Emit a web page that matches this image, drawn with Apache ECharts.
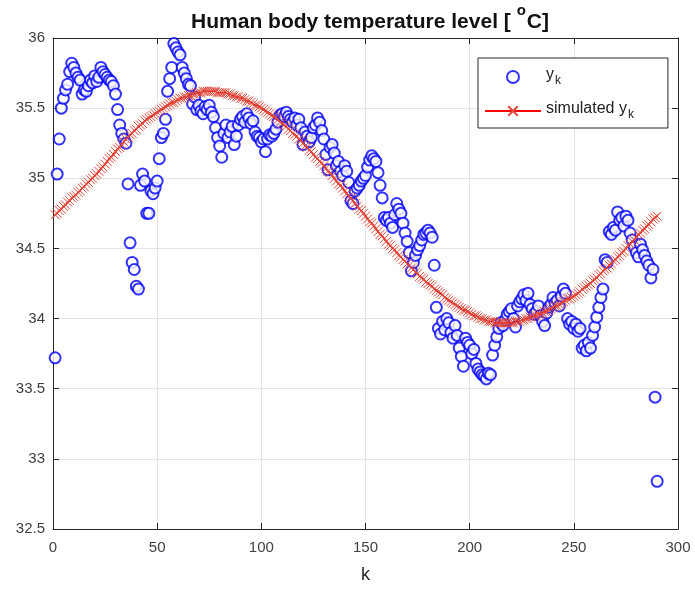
<!DOCTYPE html>
<html><head><meta charset="utf-8">
<script src="https://cdn.jsdelivr.net/npm/echarts@6/dist/echarts.min.js"></script>
<style>html,body{margin:0;padding:0;background:#fff}#c{width:695px;height:589px}</style>
</head><body><div id="c"></div>
<script>
// Measured temperature y_k for k = 1..290
const measured = [
33.72,35.03,35.28,35.50,35.57,35.63,35.67,35.76,35.82,35.79,
35.75,35.72,35.70,35.60,35.63,35.62,35.66,35.70,35.68,35.73,
35.69,35.72,35.79,35.76,35.74,35.72,35.70,35.69,35.66,35.60,
35.49,35.38,35.32,35.28,35.25,34.96,34.54,34.40,34.35,34.23,
34.21,34.95,35.03,34.98,34.75,34.75,34.91,34.89,34.93,34.98,
35.14,35.29,35.32,35.42,35.62,35.71,35.79,35.96,35.93,35.90,
35.88,35.79,35.75,35.71,35.67,35.66,35.53,35.58,35.49,35.52,
35.48,35.46,35.51,35.49,35.52,35.47,35.44,35.36,35.29,35.23,
35.15,35.32,35.38,35.29,35.33,35.37,35.24,35.30,35.38,35.42,
35.44,35.40,35.46,35.43,35.39,35.41,35.33,35.30,35.29,35.26,
35.28,35.19,35.28,35.31,35.30,35.32,35.35,35.40,35.45,35.46,
35.44,35.47,35.44,35.42,35.40,35.43,35.38,35.42,35.36,35.24,
35.33,35.30,35.26,35.29,35.36,35.38,35.43,35.40,35.34,35.28,
35.17,35.06,35.22,35.24,35.18,35.09,35.12,35.05,35.02,35.09,
35.05,34.97,34.84,34.82,34.91,34.93,34.95,34.98,35.00,35.02,
35.08,35.13,35.16,35.14,35.12,35.04,34.95,34.86,34.72,34.70,
34.72,34.68,34.65,34.74,34.82,34.78,34.75,34.68,34.61,34.55,
34.47,34.34,34.40,34.45,34.49,34.52,34.56,34.60,34.61,34.63,
34.61,34.58,34.38,34.08,33.93,33.89,33.98,33.92,34.00,33.97,
33.90,33.86,33.95,33.88,33.79,33.73,33.66,33.86,33.83,33.81,
33.75,33.78,33.68,33.64,33.62,33.60,33.59,33.57,33.61,33.60,
33.74,33.81,33.87,33.93,33.97,33.95,33.99,34.03,34.05,34.07,
34.00,33.94,34.09,34.12,34.14,34.17,34.13,34.18,34.10,34.07,
34.03,34.05,34.09,34.02,33.98,33.95,34.04,34.08,34.10,34.15,
34.11,34.13,34.09,34.16,34.21,34.18,34.00,33.96,33.98,33.93,
33.96,33.91,33.93,33.79,33.81,33.77,33.83,33.79,33.88,33.94,
34.01,34.08,34.15,34.21,34.42,34.40,34.62,34.60,34.65,34.63,
34.76,34.70,34.72,34.66,34.73,34.70,34.61,34.56,34.51,34.47,
34.44,34.53,34.49,34.45,34.41,34.38,34.29,34.35,33.44,32.84
];
// Simulated y_k for k = 1..290
const simulated = [
34.74,34.75,34.77,34.78,34.80,34.81,34.83,34.84,34.86,34.87,
34.88,34.90,34.91,34.93,34.94,34.96,34.97,34.99,35.00,35.02,
35.03,35.05,35.07,35.08,35.10,35.12,35.14,35.15,35.17,35.19,
35.21,35.22,35.24,35.26,35.28,35.29,35.31,35.32,35.34,35.35,
35.37,35.38,35.39,35.41,35.42,35.43,35.44,35.45,35.46,35.47,
35.48,35.49,35.50,35.51,35.52,35.53,35.54,35.54,35.55,35.56,
35.57,35.57,35.58,35.58,35.59,35.59,35.60,35.60,35.61,35.61,
35.61,35.62,35.62,35.62,35.62,35.62,35.62,35.62,35.61,35.61,
35.61,35.61,35.61,35.60,35.60,35.59,35.59,35.58,35.58,35.57,
35.57,35.56,35.55,35.55,35.54,35.53,35.52,35.52,35.51,35.50,
35.49,35.48,35.47,35.46,35.45,35.44,35.43,35.42,35.40,35.39,
35.38,35.37,35.35,35.34,35.32,35.31,35.30,35.28,35.27,35.25,
35.23,35.22,35.20,35.19,35.17,35.15,35.14,35.12,35.11,35.09,
35.07,35.05,35.04,35.02,35.00,34.98,34.96,34.95,34.93,34.91,
34.89,34.87,34.86,34.84,34.82,34.80,34.78,34.77,34.75,34.73,
34.71,34.69,34.68,34.66,34.64,34.62,34.60,34.59,34.57,34.55,
34.53,34.52,34.50,34.49,34.47,34.45,34.44,34.42,34.41,34.39,
34.38,34.36,34.35,34.33,34.32,34.30,34.29,34.28,34.26,34.25,
34.24,34.23,34.21,34.20,34.19,34.18,34.17,34.15,34.14,34.13,
34.12,34.11,34.10,34.09,34.08,34.07,34.06,34.06,34.05,34.04,
34.03,34.02,34.02,34.01,34.00,34.00,33.99,33.99,33.98,33.98,
33.98,33.97,33.97,33.97,33.97,33.97,33.97,33.97,33.97,33.97,
33.97,33.98,33.98,33.98,33.99,33.99,34.00,34.00,34.01,34.01,
34.02,34.02,34.03,34.03,34.04,34.05,34.05,34.06,34.07,34.08,
34.09,34.09,34.10,34.11,34.12,34.13,34.14,34.14,34.15,34.16,
34.17,34.18,34.19,34.21,34.22,34.23,34.24,34.25,34.27,34.28,
34.29,34.31,34.32,34.34,34.35,34.36,34.38,34.39,34.41,34.42,
34.44,34.45,34.47,34.48,34.50,34.52,34.53,34.55,34.56,34.58,
34.60,34.61,34.63,34.64,34.66,34.67,34.69,34.71,34.72,34.73
];
const xTicks = [0, 50, 100, 150, 200, 250, 300];
const yTicks = [32.5, 33, 33.5, 34, 34.5, 35, 35.5, 36];
const titleText = 'Human body temperature level [ °C]';
const seriesNames = ['yk', 'simulated yk'];

const FONT = '"Liberation Sans", Arial, Helvetica, sans-serif';
const AX = '#262626';
const chart = echarts.init(document.getElementById('c'), null, {renderer: 'canvas'});
const pts = measured.map((v, i) => [i + 1, v]);
const sim = simulated.map((v, i) => [i + 1, v]);
const xMin = xTicks[0], xMax = xTicks[xTicks.length - 1], xInt = xTicks[1] - xTicks[0];
const yMin = yTicks[0], yMax = yTicks[yTicks.length - 1], yInt = yTicks[1] - yTicks[0];

const baseX = {type: 'value', min: xMin, max: xMax, interval: xInt};
const baseY = {type: 'value', min: yMin, max: yMax, interval: yInt};

chart.setOption({
  animation: false,
  backgroundColor: '#fff',
  textStyle: {fontFamily: FONT},
  title: {
    text: '{a|Human body temperature level [ }{s|o}{a|C]}',
    left: 365, textAlign: 'center', top: -2,
    textStyle: {
      rich: {
        a: {fontFamily: FONT, fontSize: 21, fontWeight: 'bold', color: '#111', lineHeight: 30, verticalAlign: 'bottom'},
        s: {fontFamily: FONT, fontSize: 15, fontWeight: 'bold', color: '#111', lineHeight: 30, verticalAlign: 'top', padding: [0, 1, 0, 0]}
      }
    }
  },
  grid: {left: 53, right: 17, top: 38, bottom: 58, containLabel: false},
  legend: {
    orient: 'vertical', left: 478, top: 58,
    backgroundColor: '#fff', borderColor: AX, borderWidth: 1,
    padding: [7, 34, 7, 6], itemGap: 12, itemWidth: 56, itemHeight: 12,
    data: seriesNames,
    formatter: function (n) { return n === 'yk' ? '{t|y}{s|k}' : '{t|simulated y}{s|k}'; },
    textStyle: {
      rich: {
        t: {fontFamily: FONT, fontSize: 16, color: '#222', lineHeight: 20, verticalAlign: 'top'},
        s: {fontFamily: FONT, fontSize: 12, color: '#222', lineHeight: 20, verticalAlign: 'bottom', padding: [10, 0, 0, 1]}
      }
    }
  },
  xAxis: [
    Object.assign({}, baseX, {
      position: 'bottom', name: 'k', nameLocation: 'middle', nameGap: 37,
      nameTextStyle: {fontFamily: FONT, fontSize: 18, color: AX},
      axisLine: {show: true, onZero: false, lineStyle: {color: AX, width: 1}},
      axisTick: {show: true, inside: true, length: 6, lineStyle: {color: AX}},
      axisLabel: {fontFamily: FONT, fontSize: 15, color: '#404040', margin: 11},
      splitLine: {show: true, lineStyle: {color: '#e3e3e3', width: 1}}
    }),
    Object.assign({}, baseX, {
      position: 'top',
      axisLine: {show: true, onZero: false, lineStyle: {color: AX, width: 1}},
      axisTick: {show: true, inside: true, length: 6, lineStyle: {color: AX}},
      axisLabel: {show: false}, splitLine: {show: false}
    })
  ],
  yAxis: [
    Object.assign({}, baseY, {
      position: 'left',
      axisLine: {show: true, onZero: false, lineStyle: {color: AX, width: 1}},
      axisTick: {show: true, inside: true, length: 6, lineStyle: {color: AX}},
      axisLabel: {fontFamily: FONT, fontSize: 15, color: '#404040', margin: 8},
      splitLine: {show: true, lineStyle: {color: '#e3e3e3', width: 1}}
    }),
    Object.assign({}, baseY, {
      position: 'right',
      axisLine: {show: true, onZero: false, lineStyle: {color: AX, width: 1}},
      axisTick: {show: true, inside: true, length: 6, lineStyle: {color: AX}},
      axisLabel: {show: false}, splitLine: {show: false}
    })
  ],
  series: [
    {
      name: 'yk', type: 'scatter', data: pts, xAxisIndex: 0, yAxisIndex: 0,
      symbol: 'emptyCircle', symbolSize: 11,
      itemStyle: {color: '#0000ff', borderColor: '#1010e0', borderWidth: 1},
      z: 2
    },
    {
      name: 'simulated yk', type: 'line', data: sim, xAxisIndex: 0, yAxisIndex: 0,
      symbol: 'path://M0,0L10,10M10,0L0,10', symbolSize: 9, showSymbol: true,
      lineStyle: {color: '#ff0000', width: 1.5},
      itemStyle: {color: 'rgba(0,0,0,0)', borderColor: '#e0483a', borderWidth: 1},
      z: 3
    }
  ]
});
</script>
</body></html>
